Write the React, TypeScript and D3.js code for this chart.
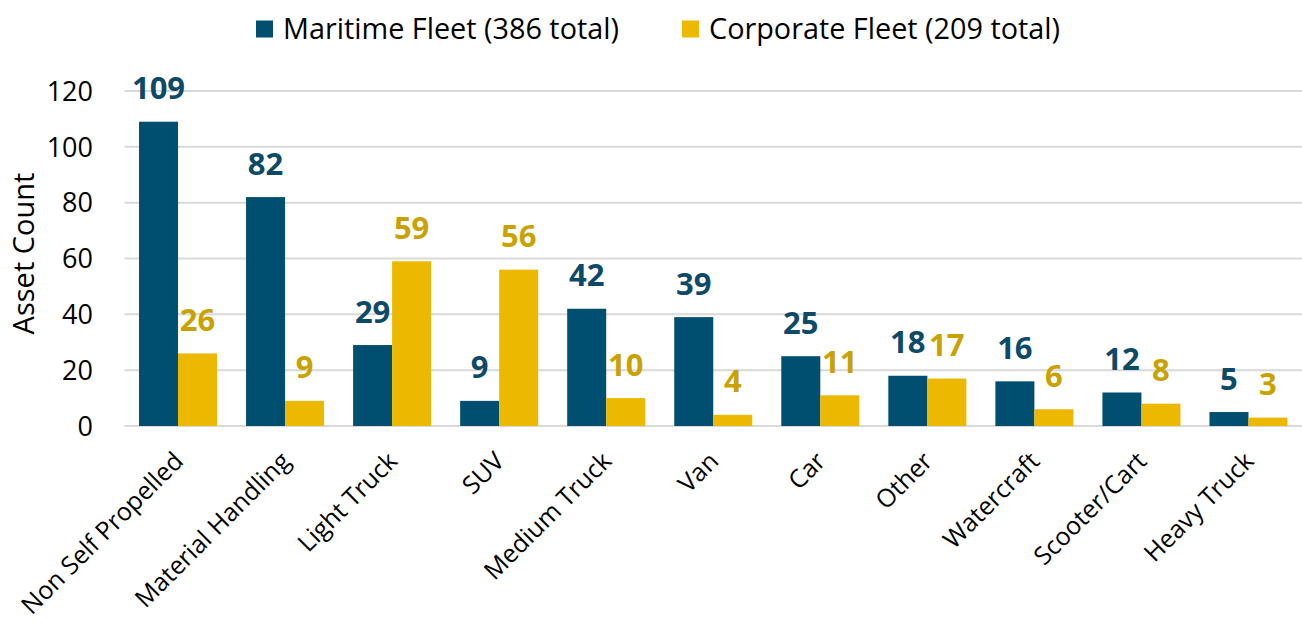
import React, { useEffect, useRef } from "react";
import * as d3 from "d3";

const categories = [
  "Non Self Propelled",
  "Material Handling",
  "Light Truck",
  "SUV",
  "Medium Truck",
  "Van",
  "Car",
  "Other",
  "Watercraft",
  "Scooter/Cart",
  "Heavy Truck",
];
const maritime = [109, 82, 29, 9, 42, 39, 25, 18, 16, 12, 5];
const corporate = [26, 9, 59, 56, 10, 4, 11, 17, 6, 8, 3];
const seriesNames = ["Maritime Fleet (386 total)", "Corporate Fleet (209 total)"];
const yTicks = [0, 20, 40, 60, 80, 100, 120];
const yTitle = "Asset Count";

const W = 1302;
const H = 627;
const FONT = "'Open Sans', sans-serif";
const barColors = ["#004f71", "#ecb800"];
const labelColors = ["#0d4a68", "#c9a200"];

export default function App() {
  const ref = useRef<SVGSVGElement>(null);
  useEffect(() => {
    document.body.style.margin = "0";
    const svg = d3.select(ref.current);
    svg.selectAll("*").remove();

    const left = 124.5;
    const right = 1302;
    const top = 91;
    const bottom = 426;

    const x = d3.scaleBand<string>().domain(categories).range([left, right]).paddingInner(0).paddingOuter(0);
    const y = d3.scaleLinear().domain([0, 120]).range([bottom, top]);
    const inner = d3.scaleBand<number>().domain([0, 1]).range([0, x.bandwidth()]).paddingInner(0).paddingOuter(0.372);

    // gridlines
    svg
      .append("g")
      .selectAll("line")
      .data(yTicks)
      .join("line")
      .attr("x1", left)
      .attr("x2", right)
      .attr("y1", (d) => y(d))
      .attr("y2", (d) => y(d))
      .attr("stroke", "#d9d9d9")
      .attr("stroke-width", 2);

    // y tick labels
    svg
      .append("g")
      .selectAll("text")
      .data(yTicks)
      .join("text")
      .attr("x", 93)
      .attr("y", (d) => y(d))
      .attr("dy", "0.36em")
      .attr("text-anchor", "end")
      .attr("font-family", FONT)
      .attr("font-size", 27)
      .attr("fill", "#000")
      .text((d) => d);

    // y title
    svg
      .append("text")
      .attr("transform", `translate(34, 253.5) rotate(-90)`)
      .attr("text-anchor", "middle")
      .attr("font-family", FONT)
      .attr("font-size", 29)
      .attr("fill", "#000")
      .text(yTitle);

    const series = [maritime, corporate];
    series.forEach((vals, si) => {
      const g = svg.append("g");
      g.selectAll("rect")
        .data(vals)
        .join("rect")
        .attr("x", (_, i) => (x(categories[i]) as number) + (inner(si) as number))
        .attr("width", inner.bandwidth())
        .attr("y", (d) => y(d))
        .attr("height", (d) => y(0) - y(d))
        .attr("fill", barColors[si]);
      g.selectAll("text")
        .data(vals)
        .join("text")
        .attr("x", (_, i) => (x(categories[i]) as number) + (inner(si) as number) + inner.bandwidth() / 2)
        .attr("y", (d) => y(d) - 22.5)
        .attr("text-anchor", "middle")
        .attr("font-family", FONT)
        .attr("font-weight", 700)
        .attr("font-size", 31)
        .attr("fill", labelColors[si])
        .text((d) => d);
    });

    // x axis category labels
    svg
      .append("g")
      .selectAll("text")
      .data(categories)
      .join("text")
      .attr("transform", (d) => `translate(${(x(d) as number) + x.bandwidth() / 2 - 6}, 450) rotate(-45)`)
      .attr("text-anchor", "end")
      .attr("dy", "0.72em")
      .attr("font-family", FONT)
      .attr("font-size", 25)
      .attr("fill", "#000")
      .text((d) => d);

    // legend
    const legendX = [256, 682];
    seriesNames.forEach((name, si) => {
      svg
        .append("rect")
        .attr("x", legendX[si])
        .attr("y", 20.5)
        .attr("width", 17)
        .attr("height", 17)
        .attr("fill", barColors[si]);
      svg
        .append("text")
        .attr("x", legendX[si] + 27)
        .attr("y", 39)
        .attr("font-family", FONT)
        .attr("font-size", 28.8)
        .attr("fill", "#000")
        .text(name);
    });
  }, []);

  return (
    <svg
      ref={ref}
      width={W}
      height={H}
      style={{ display: "block", position: "absolute", left: 0, top: 0, background: "#fff" }}
    />
  );
}
